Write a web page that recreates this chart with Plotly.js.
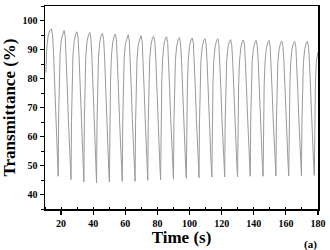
<!DOCTYPE html>
<html>
<head>
<meta charset="utf-8">
<script src="https://cdn.plot.ly/plotly-3.0.1.min.js"></script>
<style>html,body{margin:0;padding:0;background:#fff;}#chart{width:330px;height:250px;}</style>
</head>
<body>
<div id="chart"></div>
<script>
// Time (s) and transmittance (%)
const timeS = [
  10.6, 11.1, 11.9, 12.9, 14.0, 14.7, 15.3, 15.9, 16.6, 17.3, 17.9,
  18.2, 18.5, 18.9, 19.4, 20.2, 21.1, 21.9, 22.6, 23.2, 23.8, 24.5, 25.2, 25.8,
  26.2, 26.5, 26.9, 27.4, 28.2, 29.1, 29.9, 30.6, 31.2, 31.8, 32.5, 33.2, 33.8,
  34.2, 34.5, 34.9, 35.4, 36.2, 37.1, 37.9, 38.6, 39.2, 39.8, 40.5, 41.2, 41.8,
  42.1, 42.4, 42.8, 43.3, 44.1, 45.0, 45.8, 46.5, 47.1, 47.7, 48.4, 49.1, 49.7,
  50.1, 50.4, 50.8, 51.3, 52.1, 53.0, 53.8, 54.5, 55.1, 55.7, 56.4, 57.1, 57.7,
  58.1, 58.4, 58.8, 59.3, 60.1, 61.0, 61.8, 62.5, 63.1, 63.7, 64.4, 65.1, 65.7,
  66.1, 66.4, 66.8, 67.3, 68.1, 69.0, 69.8, 70.5, 71.1, 71.7, 72.4, 73.1, 73.7,
  74.0, 74.3, 74.7, 75.2, 76.0, 76.9, 77.7, 78.4, 79.0, 79.6, 80.3, 81.0, 81.6,
  82.0, 82.3, 82.7, 83.2, 84.0, 84.9, 85.7, 86.4, 87.0, 87.6, 88.3, 89.0, 89.6,
  90.0, 90.3, 90.7, 91.2, 92.0, 92.9, 93.7, 94.4, 95.0, 95.6, 96.3, 97.0, 97.6,
  98.0, 98.3, 98.7, 99.2, 100.0, 100.9, 101.7, 102.4, 103.0, 103.6, 104.3, 105.0, 105.6,
  105.9, 106.2, 106.6, 107.1, 107.9, 108.8, 109.6, 110.3, 110.9, 111.5, 112.2, 112.9, 113.5,
  113.9, 114.2, 114.6, 115.1, 115.9, 116.8, 117.6, 118.3, 118.9, 119.5, 120.2, 120.9, 121.5,
  121.9, 122.2, 122.6, 123.1, 123.9, 124.8, 125.6, 126.3, 126.9, 127.5, 128.2, 128.9, 129.5,
  129.9, 130.2, 130.6, 131.1, 131.9, 132.8, 133.6, 134.3, 134.9, 135.5, 136.2, 136.9, 137.5,
  137.8, 138.1, 138.5, 139.0, 139.8, 140.7, 141.5, 142.2, 142.8, 143.4, 144.1, 144.8, 145.4,
  145.8, 146.1, 146.5, 147.0, 147.8, 148.7, 149.5, 150.2, 150.8, 151.4, 152.1, 152.8, 153.4,
  153.8, 154.1, 154.5, 155.0, 155.8, 156.7, 157.5, 158.2, 158.8, 159.4, 160.1, 160.8, 161.4,
  161.8, 162.1, 162.5, 163.0, 163.8, 164.7, 165.5, 166.2, 166.8, 167.4, 168.1, 168.8, 169.4,
  169.7, 170.0, 170.4, 170.9, 171.7, 172.6, 173.4, 174.1, 174.7, 175.3, 176.0, 176.7, 177.3,
  177.7, 178.0, 178.4, 178.9, 179.9
];
const transmittance = [
  82.0, 90.5, 94.5, 96.5, 97.1, 95.1, 89.0, 78.8, 67.6, 57.5, 50.4,
  46.3, 66.4, 80.5, 88.6, 93.6, 95.8, 96.6, 94.5, 88.4, 78.1, 66.7, 56.4, 49.2,
  45.1, 65.5, 79.8, 87.9, 93.0, 95.3, 96.1, 94.0, 87.8, 77.5, 66.1, 55.7, 48.4,
  44.3, 64.9, 79.4, 87.6, 92.8, 95.1, 95.9, 93.8, 87.6, 77.2, 65.8, 55.4, 48.2,
  44.0, 64.6, 79.1, 87.3, 92.5, 94.8, 95.6, 93.5, 87.4, 77.1, 65.8, 55.6, 48.4,
  44.3, 64.7, 79.0, 87.1, 92.2, 94.5, 95.3, 93.3, 87.2, 77.0, 65.8, 55.7, 48.6,
  44.5, 64.7, 78.9, 87.0, 92.1, 94.3, 95.1, 93.1, 87.0, 76.9, 65.8, 55.6, 48.5,
  44.5, 64.6, 78.7, 86.8, 91.8, 94.0, 94.8, 92.8, 86.8, 76.8, 65.9, 55.9, 48.9,
  44.9, 64.8, 78.7, 86.6, 91.6, 93.9, 94.6, 92.6, 86.7, 76.8, 65.9, 56.0, 49.1,
  45.1, 64.8, 78.6, 86.5, 91.4, 93.7, 94.4, 92.4, 86.5, 76.7, 65.9, 56.1, 49.2,
  45.3, 64.8, 78.5, 86.3, 91.2, 93.4, 94.1, 92.2, 86.3, 76.6, 66.0, 56.3, 49.5,
  45.6, 65.0, 78.5, 86.3, 91.1, 93.3, 94.0, 92.1, 86.3, 76.6, 66.0, 56.4, 49.7,
  45.8, 65.0, 78.4, 86.1, 90.9, 93.1, 93.8, 91.9, 86.2, 76.6, 66.1, 56.5, 49.8,
  46.0, 65.1, 78.4, 86.1, 90.8, 93.0, 93.7, 91.8, 86.1, 76.6, 66.1, 56.6, 49.9,
  46.1, 65.0, 78.3, 85.8, 90.6, 92.7, 93.4, 91.5, 85.8, 76.4, 66.0, 56.5, 49.9,
  46.1, 65.0, 78.2, 85.7, 90.5, 92.6, 93.3, 91.4, 85.8, 76.4, 66.0, 56.6, 50.1,
  46.3, 65.0, 78.1, 85.6, 90.3, 92.4, 93.1, 91.2, 85.6, 76.3, 66.0, 56.6, 50.0,
  46.3, 65.0, 78.1, 85.6, 90.3, 92.4, 93.1, 91.2, 85.6, 76.3, 66.0, 56.7, 50.1,
  46.4, 65.0, 78.0, 85.5, 90.1, 92.2, 92.9, 91.0, 85.5, 76.2, 65.9, 56.6, 50.1,
  46.4, 65.0, 78.0, 85.4, 90.0, 92.1, 92.8, 90.9, 85.4, 76.1, 65.9, 56.7, 50.2,
  46.5, 65.0, 78.0, 85.4, 90.0, 92.1, 92.8, 90.9, 85.4, 76.2, 66.0, 56.8, 50.3,
  46.6, 65.1, 78.0, 85.5, 89.0
];
const xTickVals = [20, 40, 60, 80, 100, 120, 140, 160, 180];
const yTickVals = [40, 50, 60, 70, 80, 90, 100];

const serif = 'Liberation Serif, Times New Roman, serif';

const trace = {
  x: timeS,
  y: transmittance,
  type: 'scatter',
  mode: 'lines',
  line: {color: '#9a9a9a', width: 1},
  hoverinfo: 'x+y'
};

const layout = {
  width: 330, height: 250,
  margin: {l: 45, r: 12, t: 6, b: 41},
  paper_bgcolor: '#fff', plot_bgcolor: '#fff',
  showlegend: false,
  xaxis: {
    range: [10, 180],
    tickvals: xTickVals,
    ticks: 'outside', ticklen: 4, tickwidth: 1.2, tickcolor: '#000',
    minor: {dtick: 10, tick0: 0, ticks: 'inside', ticklen: 2.5, tickwidth: 1, tickcolor: '#000'},
    showline: true, mirror: true, linecolor: '#000', linewidth: 1.5,
    showgrid: false, zeroline: false,
    tickfont: {family: serif, size: 10, color: '#000', weight: 'bold'},
    title: {text: 'Time (s)', font: {family: serif, size: 17, color: '#000', weight: 'bold'}, standoff: 3}
  },
  yaxis: {
    range: [35, 105],
    tickvals: yTickVals,
    ticks: 'outside', ticklen: 4, tickwidth: 1.2, tickcolor: '#000',
    minor: {dtick: 5, tick0: 0, ticks: 'outside', ticklen: 2.5, tickwidth: 1, tickcolor: '#000'},
    showline: true, mirror: true, linecolor: '#000', linewidth: 1.5,
    showgrid: false, zeroline: false,
    tickfont: {family: serif, size: 10, color: '#000', weight: 'bold'},
    title: {text: 'Transmittance (%)', font: {family: serif, size: 17, color: '#000', weight: 'bold'}, standoff: 4}
  },
  annotations: [{
    text: '(a)', xref: 'paper', yref: 'paper', x: 1.005, y: -0.175,
    xanchor: 'right', yanchor: 'middle', showarrow: false,
    font: {family: serif, size: 11, color: '#000', weight: 'bold'}
  }]
};

Plotly.newPlot('chart', [trace], layout, {displayModeBar: false, staticPlot: true});
</script>
</body>
</html>
